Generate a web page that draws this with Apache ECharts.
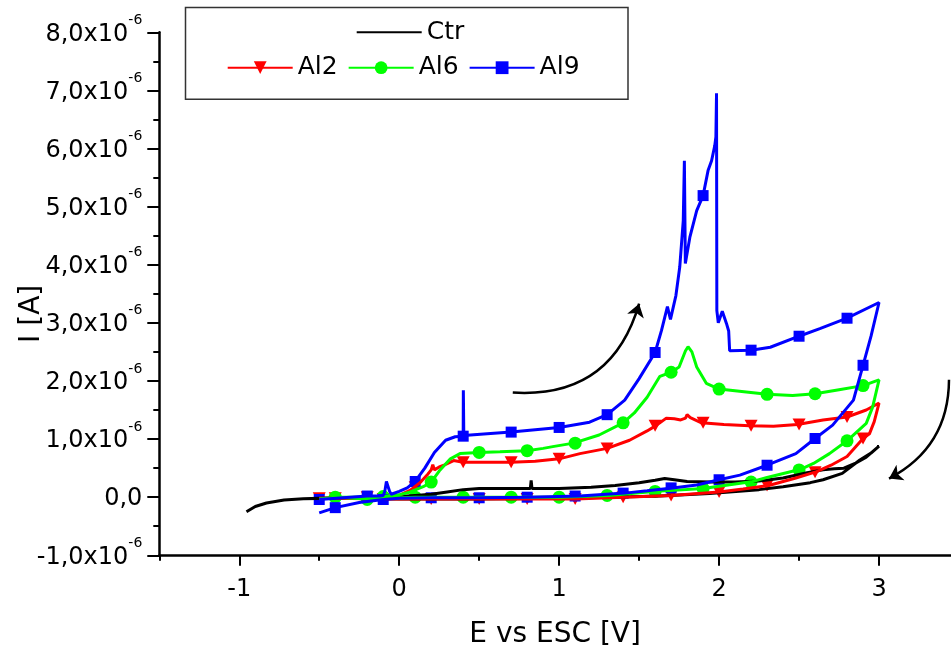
<!DOCTYPE html>
<html><head><meta charset="utf-8">
<script src="https://cdn.jsdelivr.net/npm/echarts@6/dist/echarts.min.js"></script>
<style>html,body{margin:0;padding:0;background:#fff}#c{width:951px;height:656px}</style>
</head><body><div id="c"></div>
<script>
// ---- data (I in units of 1e-6 A, E in V) ----
const xMajorTicks = [-1, 0, 1, 2, 3];
const xMinorTicks = [-1.5, -0.5, 0.5, 1.5, 2.5];
const legendRow1 = ['Ctr'];
const legendRow2 = ['Al2', 'Al6', 'Al9'];

const ctr = [
  [-0.955,-0.25],[-0.9,-0.16],[-0.83,-0.1],[-0.72,-0.05],[-0.6,-0.025],[-0.4,-0.01],[-0.2,0.0],[0.0,0.01],
  [0.1,0.03],[0.2,0.05],[0.3,0.09],[0.4,0.13],[0.5,0.15],[0.7,0.15],[0.82,0.15],[0.825,0.29],[0.83,0.15],
  [1.0,0.15],[1.2,0.17],[1.35,0.2],[1.5,0.25],[1.6,0.29],[1.66,0.32],[1.72,0.3],[1.8,0.27],[1.95,0.26],
  [2.1,0.26],[2.25,0.28],[2.4,0.33],[2.55,0.42],[2.65,0.47],[2.72,0.49],[2.78,0.5],[2.85,0.58],[2.92,0.69],[3.0,0.88],
  [2.95,0.76],[2.88,0.64],[2.77,0.41],[2.65,0.3],[2.57,0.25],[2.4,0.18],[2.25,0.13],[1.94,0.064],[1.63,0.02],
  [1.32,0.0],[1.0,-0.02],[0.5,-0.03],[0.0,-0.03],[-0.4,-0.02],[-0.6,-0.025]
];

const al2 = [
  [-0.5,-0.02],[-0.3,-0.01],[-0.1,0.0],[0.0,0.03],[0.07,0.12],[0.13,0.25],[0.18,0.4],[0.2,0.47],[0.21,0.56],
  [0.22,0.47],[0.25,0.52],[0.28,0.55],[0.34,0.63],[0.4,0.6],[0.55,0.6],[0.7,0.6],[0.85,0.62],[1.0,0.66],
  [1.13,0.75],[1.3,0.84],[1.44,0.98],[1.55,1.14],[1.61,1.24],[1.67,1.36],[1.72,1.35],[1.76,1.33],[1.79,1.36],
  [1.8,1.42],[1.82,1.37],[1.89,1.28],[2.03,1.25],[2.19,1.23],[2.34,1.22],[2.49,1.25],[2.65,1.33],[2.8,1.38],
  [2.92,1.5],[3.0,1.62],
  [2.97,1.3],[2.94,1.09],[2.9,1.01],[2.8,0.7],[2.7,0.55],[2.61,0.44],[2.48,0.33],[2.31,0.2],[2.15,0.14],
  [2.0,0.09],[1.7,0.03],[1.4,0.0],[1.1,-0.03],[0.8,-0.03],[0.5,-0.03],[0.2,-0.03],[-0.1,-0.03],[-0.4,-0.02],[-0.5,-0.02]
];
const al2Marks = [
  [-0.5,-0.02],[-0.2,0.0],[0.1,0.17],[0.4,0.6],[0.7,0.6],[1.0,0.66],[1.3,0.84],[1.6,1.23],[1.9,1.28],[2.2,1.23],
  [2.5,1.25],[2.8,1.38],[2.9,1.01],[2.6,0.43],[2.3,0.2],[2.0,0.09],[1.7,0.03],[1.4,0.0],[1.1,-0.03],[0.8,-0.03],
  [0.5,-0.03],[0.2,-0.03],[-0.1,-0.03],[-0.4,-0.02]
];

const al6 = [
  [-0.5,-0.03],[-0.4,0.0],[-0.2,0.0],[-0.1,0.01],[0.0,0.04],[0.07,0.09],[0.15,0.18],[0.2,0.26],[0.25,0.45],
  [0.32,0.66],[0.38,0.75],[0.5,0.77],[0.63,0.78],[0.8,0.8],[0.9,0.84],[0.96,0.87],[1.09,0.93],[1.25,1.07],
  [1.4,1.28],[1.47,1.45],[1.55,1.72],[1.63,2.08],[1.7,2.15],[1.75,2.24],[1.79,2.52],[1.806,2.59],[1.83,2.5],
  [1.86,2.24],[1.92,1.96],[2.0,1.86],[2.17,1.81],[2.3,1.77],[2.46,1.75],[2.6,1.78],[2.75,1.85],[2.9,1.92],[3.0,2.02],
  [2.96,1.55],[2.92,1.27],[2.8,0.97],[2.69,0.75],[2.59,0.58],[2.51,0.48],[2.3,0.34],[2.21,0.27],[2.0,0.19],
  [1.9,0.15],[1.61,0.1],[1.31,0.03],[1.0,0.0],[0.7,0.0],[0.4,0.0],[0.1,0.0],[-0.2,-0.03],[-0.4,0.0],[-0.5,-0.03]
];
const al6Marks = [
  [-0.4,0.0],[-0.1,0.01],[0.2,0.26],[0.5,0.77],[0.8,0.8],[1.1,0.93],[1.4,1.28],[1.7,2.15],[2.0,1.86],[2.3,1.77],
  [2.6,1.78],[2.9,1.92],[2.8,0.97],[2.5,0.47],[2.2,0.26],[1.9,0.15],[1.6,0.1],[1.3,0.03],[1.0,0.0],[0.7,0.0],
  [0.4,0.0],[0.1,0.0],[-0.2,-0.04]
];

const al9 = [
  [-0.5,-0.04],[-0.35,-0.01],[-0.2,0.02],[-0.12,0.02],[-0.1,0.03],[-0.09,0.1],[-0.08,0.27],[-0.07,0.29],
  [-0.06,0.1],[-0.05,0.05],[0.0,0.1],[0.05,0.16],[0.1,0.27],[0.16,0.5],[0.22,0.77],[0.29,0.98],[0.35,1.04],
  [0.4,1.05],[0.401,1.84],[0.404,1.06],[0.55,1.09],[0.7,1.12],[0.85,1.16],[1.0,1.2],[1.19,1.29],[1.3,1.42],
  [1.41,1.67],[1.5,2.04],[1.6,2.49],[1.64,2.87],[1.677,3.28],[1.696,3.06],[1.73,3.47],[1.754,3.96],[1.776,4.76],
  [1.783,5.79],[1.789,4.02],[1.817,4.47],[1.86,4.93],[1.9,5.19],[1.931,5.62],[1.953,5.79],[1.973,6.05],[1.98,6.2],
  [1.984,6.95],[1.986,3.21],[1.995,3.0],[2.02,3.2],[2.046,2.99],[2.06,2.86],[2.066,2.52],[2.2,2.53],[2.32,2.58],
  [2.5,2.77],[2.63,2.9],[2.8,3.08],[3.0,3.35],
  [2.95,2.77],[2.9,2.27],[2.84,1.67],[2.71,1.24],[2.6,1.01],[2.48,0.75],[2.3,0.55],[2.13,0.38],[2.0,0.3],
  [1.86,0.21],[1.71,0.16],[1.55,0.11],[1.41,0.07],[1.13,0.02],[0.8,0.0],[0.5,-0.01],[0.2,-0.01],[0.0,-0.02],
  [-0.1,-0.04],[-0.25,-0.09],[-0.4,-0.18],[-0.5,-0.27]
];
const al9Marks = [
  [-0.5,-0.04],[-0.2,0.02],[0.1,0.27],[0.4,1.05],[0.7,1.12],[1.0,1.2],[1.3,1.42],[1.6,2.49],[1.9,5.19],[2.2,2.53],
  [2.5,2.77],[2.8,3.08],[2.9,2.27],[2.6,1.01],[2.3,0.55],[2.0,0.3],[1.7,0.16],[1.4,0.07],[1.1,0.02],[0.8,0.0],
  [0.5,-0.01],[0.2,-0.01],[-0.1,-0.04],[-0.4,-0.18]
];

// scan-direction arrows: [start, end] in data coordinates
const arrowForward = [[0.71,1.8],[1.5,3.33]];
const arrowReverse = [[3.4375,2.02],[3.0625,0.32]];

// ---- chart ----
const FONT = 'DejaVu Sans';
const TRI_DOWN = 'path://M0,0L10,0L5,8.66Z';
const chart = echarts.init(document.getElementById('c'), null, {renderer: 'canvas'});

function yLabel(v) {
  if (Math.abs(v) < 1e-9) return '{m|0,0}';
  return '{m|' + v.toFixed(1).replace('.', ',') + 'x10}{s|-6}';
}

function lineSeries(name, data, color, symbol) {
  return {
    name: name, type: 'line', data: data, showSymbol: false, symbol: symbol,
    symbolSize: 12, lineStyle: {color: color, width: 3}, itemStyle: {color: color},
    smooth: false, animation: false, silent: true
  };
}
function markSeries(name, data, color, symbol, size) {
  return {
    name: name, type: 'scatter', data: data, symbol: symbol, symbolSize: size,
    itemStyle: {color: color, opacity: 1}, animation: false, silent: true
  };
}
function arrowSeries(name, pts, curveness) {
  return {
    name: name, type: 'lines', coordinateSystem: 'cartesian2d', polyline: false,
    symbol: ['none', 'arrow'], symbolSize: [0, 13],
    lineStyle: {color: '#000', width: 2.5, type: 'solid', curveness: curveness, opacity: 1},
    data: [{coords: pts}], animation: false, silent: true
  };
}

const axisBlack = {color: '#000', width: 2.5};

chart.setOption({
  animation: false,
  backgroundColor: '#fff',
  grid: {left: 159.3, right: 0, top: 32.3, bottom: 100.7, containLabel: false, outerBoundsMode: 'none'},
  xAxis: [{
    type: 'value', min: -1.5, max: 3.45,
    axisLine: {show: true, onZero: false, lineStyle: axisBlack},
    axisTick: {show: true, inside: false, length: 10.5, customValues: xMajorTicks, lineStyle: {color: '#000', width: 2}},
    axisLabel: {show: true, customValues: xMajorTicks, margin: 22, color: '#000', fontFamily: FONT, fontSize: 24,
      formatter: v => String(v)},
    splitLine: {show: false},
    name: 'E vs ESC [V]', nameLocation: 'middle', nameGap: 65, nameMoveOverlap: false,
    nameTextStyle: {color: '#000', fontFamily: FONT, fontSize: 28}
  }, {
    type: 'value', min: -1.5, max: 3.45, position: 'bottom', gridIndex: 0,
    axisLine: {show: false, onZero: false},
    axisTick: {show: true, inside: false, length: 5.5, customValues: xMinorTicks, lineStyle: {color: '#000', width: 2}},
    axisLabel: {show: false},
    splitLine: {show: false}
  }],
  yAxis: {
    type: 'value', min: -1, max: 8, interval: 1,
    axisLine: {show: true, onZero: false, lineStyle: axisBlack},
    axisTick: {show: true, inside: false, length: 12, lineStyle: {color: '#000', width: 2}},
    minorTick: {show: true, splitNumber: 2, length: 6, lineStyle: {color: '#000', width: 2}},
    splitLine: {show: false}, minorSplitLine: {show: false},
    axisLabel: {
      margin: 17, formatter: yLabel, padding: [4, 0, 0, 0],
      rich: {
        m: {fontFamily: FONT, fontSize: 24, color: '#000', verticalAlign: 'middle'},
        s: {fontFamily: FONT, fontSize: 14, color: '#000', lineHeight: 14, padding: [0, 0, 28, 0]}
      }
    },
    name: 'I [A]', nameLocation: 'middle', nameGap: 114, nameMoveOverlap: false,
    nameTextStyle: {color: '#000', fontFamily: FONT, fontSize: 28, padding: [0, 40, 0, 0]}
  },
  legend: [{
    data: [{name: legendRow1[0], itemStyle: {opacity: 0}}],
    left: 355.7, top: 19.8, padding: 0, itemWidth: 65, itemHeight: 16, itemGap: 10,
    textStyle: {fontFamily: FONT, fontSize: 25, color: '#000'}, selectedMode: false
  }, {
    data: legendRow2,
    left: 226.7, top: 55.2, padding: 0, itemWidth: 65, itemHeight: 16, itemGap: 10,
    textStyle: {fontFamily: FONT, fontSize: 25, color: '#000'}, selectedMode: false
  }],
  graphic: [{
    type: 'rect', left: 183, top: 5, z: 100,
    shape: {width: 442.5, height: 91.7},
    style: {fill: 'none', stroke: '#333', lineWidth: 1.5}
  }],
  series: [
    lineSeries('Ctr', ctr, '#000000', 'none'),
    lineSeries('Al2', al2, '#ff0000', TRI_DOWN),
    markSeries('Al2 marks', al2Marks, '#ff0000', TRI_DOWN, [13, 12]),
    lineSeries('Al6', al6, '#00ff00', 'circle'),
    markSeries('Al6 marks', al6Marks, '#00ff00', 'circle', 13),
    lineSeries('Al9', al9, '#0000ff', 'rect'),
    markSeries('Al9 marks', al9Marks, '#0000ff', 'rect', 11),
    arrowSeries('forward scan', arrowForward, -0.4),
    arrowSeries('reverse scan', arrowReverse, 0.3)
  ]
});
</script>
</body></html>
